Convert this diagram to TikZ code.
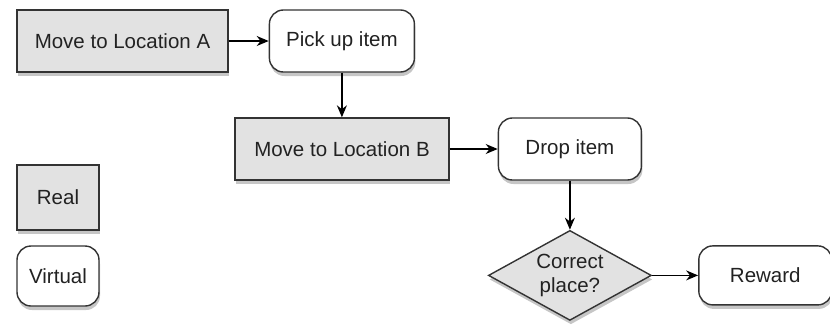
\documentclass[tikz,border=0pt]{standalone}
\usepackage{fontspec}
\setmainfont{Liberation Sans}
\usetikzlibrary{positioning,shapes.geometric,shadows,arrows.meta}
\definecolor{realgray}{HTML}{E2E2E2}
\definecolor{linegray}{HTML}{333333}
\definecolor{textgray}{HTML}{222222}
\tikzset{
  shade/.style={drop shadow={shadow xshift=1pt,shadow yshift=-4pt,opacity=.45}},
  real/.style={draw=linegray,line width=1.4pt,fill=realgray,shade,minimum height=62pt,text=textgray,font=\fontsize{20.5}{24}\selectfont},
  virtual/.style={real,fill=white,rounded corners=14pt},
  choice/.style={real,diamond,aspect=1.8,minimum width=163pt,minimum height=90pt,inner sep=0pt,align=center,font=\fontsize{20.5}{24}\selectfont},
  flow/.style={draw=black,line width=1.3pt,-{Stealth[length=12pt,width=10pt]}}
}
\begin{document}
\begin{tikzpicture}[x=1pt,y=-1pt]
\useasboundingbox (0,0) rectangle (830,325);
\node[real,minimum width=211pt](moveA) at (122.5,41){Move to Location A};
\node[virtual,minimum width=145pt](pick)[right=40pt of moveA]{Pick up item};
\node[real,minimum width=214pt](moveB) at (342,149){Move to Location B};
\node[virtual,minimum width=143pt](drop)[right=48pt of moveB]{Drop item};
\node[choice](place)[below=49pt of drop]{Correct\\place?};
\node[virtual,minimum width=133pt,minimum height=59pt](reward)[right=46pt of place]{Reward};
\node[real,minimum width=82pt,minimum height=65pt](real) at (58,197.5){Real};
\node[virtual,minimum width=82pt,minimum height=60pt](virtual) at (58,276){Virtual};
\draw[flow](moveA)--(pick);
\draw[flow](pick)--(pick|-moveB.north);
\draw[flow](moveB)--(drop);
\draw[flow](drop)--(place);
\draw[flow](place)--(reward);
\end{tikzpicture}
\end{document}
